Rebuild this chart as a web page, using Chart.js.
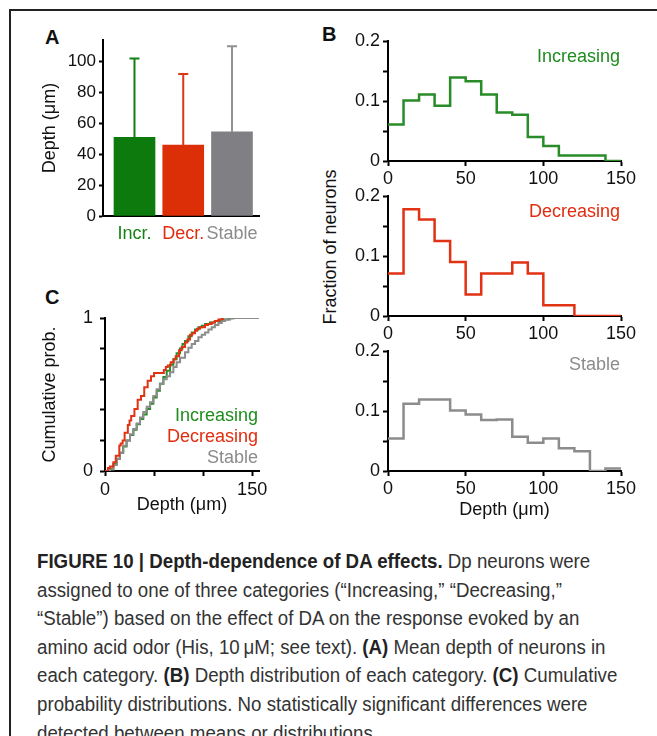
<!DOCTYPE html>
<html lang="en">
<head>
<meta charset="UTF-8">
<title>Depth-dependence of DA effects</title>
<script src="https://cdn.jsdelivr.net/npm/chart.js"></script>
<style>
  body { margin: 0; width: 657px; height: 736px; background: #fff; position: relative; overflow: hidden;
         font-family: "Liberation Sans", Arial, sans-serif; color: #111; }
  #frame { position: absolute; left: 9px; top: 9px; right: -5px; bottom: -5px;
           border-top: 2px solid #222; border-left: 2px solid #222; }
  .box { position: absolute; }
  .letter { position: absolute; font-weight: bold; font-size: 20px; line-height: 20px; }
  .tag { position: absolute; font-size: 18px; line-height: 22px; text-align: right; white-space: nowrap; }
  #ylabB { position: absolute; left: 230px; top: 237px; width: 200px; height: 20px; line-height: 20px;
           text-align: center; font-size: 18px; transform: rotate(-90deg); white-space: nowrap; }
  #caption { position: absolute; left: 37px; top: 547px; font-size: 20px; line-height: 28.6px; color: #333;
             white-space: nowrap; transform: scaleX(0.935); transform-origin: left top; }
  #caption b { color: #222; }
</style>
</head>
<body>
<div id="frame"></div>

<div class="letter" style="left:45px; top:27px;">A</div>
<div class="letter" style="left:322px; top:24px;">B</div>
<div class="letter" style="left:45px; top:287px;">C</div>

<div class="box" style="left:20px; top:20px; width:250px; height:240px;"><canvas id="barChart"></canvas></div>
<div class="box" style="left:340px; top:25px; width:305px; height:170px;"><canvas id="histInc"></canvas></div>
<div class="box" style="left:340px; top:180px; width:305px; height:170px;"><canvas id="histDec"></canvas></div>
<div class="box" style="left:340px; top:335px; width:305px; height:195px;"><canvas id="histSta"></canvas></div>
<div class="box" style="left:20px; top:300px; width:255px; height:230px;"><canvas id="cumChart"></canvas></div>

<div id="ylabB">Fraction of neurons</div>

<div class="tag" style="right:37px; top:45px; color:rgb(30,140,30);">Increasing</div>
<div class="tag" style="right:37px; top:200px; color:rgb(225,45,15);">Decreasing</div>
<div class="tag" style="right:37px; top:353px; color:rgb(140,140,140);">Stable</div>

<div class="tag" style="left:150px; width:108px; top:404px; color:rgb(30,140,30);">Increasing</div>
<div class="tag" style="left:150px; width:108px; top:425px; color:rgb(225,45,15);">Decreasing</div>
<div class="tag" style="left:150px; width:108px; top:446px; color:rgb(140,140,140);">Stable</div>

<div id="caption">
<b>FIGURE 10 | Depth-dependence of DA effects.</b> Dp neurons were<br>
assigned to one of three categories (“Increasing,” “Decreasing,”<br>
“Stable”) based on the effect of DA on the response evoked by an<br>
amino acid odor (His, 10&thinsp;μM; see text). <b>(A)</b> Mean depth of neurons in<br>
each category. <b>(B)</b> Depth distribution of each category. <b>(C)</b> Cumulative<br>
probability distributions. No statistically significant differences were<br>
detected between means or distributions.
</div>

<script>
// panel A: mean depth +/- SD
const barLabels = ['Incr.', 'Decr.', 'Stable'];
const meanDepth = [51, 46, 54.5];
const sdDepth = [51, 46, 55.5];

// panel B: histogram, 10 um bins
const binEdges = [0, 10, 20, 30, 40, 50, 60, 70, 80, 90, 100, 110, 120, 130, 140, 150];
const fracIncreasing = [0.061, 0.101, 0.111, 0.092, 0.139, 0.133, 0.111, 0.081, 0.077, 0.040, 0.025, 0.009, 0.009, 0.009, 0];
const fracDecreasing = [0.071, 0.178, 0.161, 0.125, 0.090, 0.036, 0.071, 0.071, 0.089, 0.071, 0.018, 0.018, 0, 0, 0];
const fracStable = [0.054, 0.112, 0.119, 0.119, 0.101, 0.094, 0.085, 0.086, 0.057, 0.047, 0.054, 0.038, 0.033, 0, 0.004];

// panel C: cumulative probability
const cumDecDepth = [0, 3, 5, 8.5, 11, 14.6, 16, 18, 20, 23.3, 25, 26.7, 30, 33.3, 36.7, 40, 43.5, 46.9, 50, 58.5, 60, 62, 64, 67, 70, 72, 75.5, 78.2, 81.6, 84, 86.7, 89, 91.8, 94, 96.9, 102, 105, 108.8, 112, 115.6, 119, 120];
const cumDecProb = [0, 0.02, 0.03, 0.057, 0.1, 0.166, 0.18, 0.2, 0.25, 0.3, 0.33, 0.36, 0.405, 0.466, 0.49, 0.547, 0.59, 0.62, 0.64, 0.64, 0.66, 0.68, 0.69, 0.71, 0.73, 0.75, 0.79, 0.81, 0.84, 0.86, 0.89, 0.9, 0.917, 0.93, 0.94, 0.954, 0.96, 0.97, 0.98, 0.99, 0.993, 1];
const cumIncDepth = [0, 3, 5, 8.5, 12, 15.3, 18.5, 22, 25.5, 28.9, 32.3, 35.7, 39, 42.5, 46, 49.3, 52.7, 56, 59.5, 62.9, 66.3, 69.7, 73, 76.5, 79, 81.6, 85, 88.4, 91.8, 95.2, 98.6, 102, 107, 112, 119, 125.9, 131];
const cumIncProb = [0, 0.005, 0.015, 0.046, 0.08, 0.12, 0.16, 0.2, 0.235, 0.27, 0.305, 0.34, 0.37, 0.405, 0.44, 0.48, 0.525, 0.57, 0.615, 0.655, 0.695, 0.73, 0.77, 0.8, 0.83, 0.85, 0.88, 0.905, 0.925, 0.94, 0.95, 0.96, 0.97, 0.98, 0.99, 0.998, 1];
const cumStaDepth = [0, 2, 5, 8.5, 11.9, 15.3, 18.7, 22, 25.5, 28.9, 32.3, 35.7, 39, 42.5, 45.9, 49.3, 52.7, 56, 59.5, 62.9, 66.3, 69.7, 73, 76.5, 81.6, 85, 88.4, 91.8, 95.2, 98.6, 102, 105.4, 108.8, 112, 115.6, 119, 122.4, 127.6, 131, 157];
const cumStaProb = [0, 0, 0.01, 0.04, 0.08, 0.12, 0.165, 0.2, 0.24, 0.275, 0.31, 0.35, 0.385, 0.42, 0.45, 0.49, 0.535, 0.57, 0.6, 0.62, 0.645, 0.68, 0.71, 0.74, 0.776, 0.805, 0.83, 0.85, 0.874, 0.89, 0.906, 0.925, 0.94, 0.955, 0.967, 0.98, 0.99, 0.998, 1, 1];

const GREEN = 'rgb(40,140,40)', RED = 'rgb(225,50,20)', GREY = 'rgb(140,140,140)';
const barColors = ['rgb(12,122,12)', 'rgb(220,47,8)', 'rgb(128,128,132)'];
const errColors = ['rgb(20,128,20)', 'rgb(222,55,20)', 'rgb(145,145,148)'];
const labelColors = ['rgb(20,130,20)', 'rgb(225,45,15)', 'rgb(140,140,140)'];

Chart.defaults.font.family = '"Liberation Sans", Arial, sans-serif';
Chart.defaults.color = '#111';
Chart.defaults.animation = false;
Chart.defaults.plugins.legend.display = false;
Chart.defaults.plugins.tooltip.enabled = false;

const errorBars = {
  id: 'errorBars',
  afterDatasetsDraw(chart) {
    const {ctx, scales: {x, y}} = chart;
    ctx.save();
    ctx.lineWidth = 2;
    meanDepth.forEach((m, i) => {
      const px = x.getPixelForValue(i);
      const y0 = y.getPixelForValue(m);
      const y1 = y.getPixelForValue(m + sdDepth[i]);
      ctx.strokeStyle = errColors[i];
      ctx.beginPath();
      ctx.moveTo(px, y0); ctx.lineTo(px, y1);
      ctx.moveTo(px - 5, y1); ctx.lineTo(px + 5, y1);
      ctx.stroke();
    });
    ctx.restore();
  }
};

new Chart(document.getElementById('barChart'), {
  type: 'bar',
  data: {
    datasets: [{
      data: meanDepth.map((v, i) => ({x: i, y: v})),
      backgroundColor: barColors,
      barThickness: 41
    }]
  },
  options: {
    responsive: true, maintainAspectRatio: false,
    layout: {padding: {top: 20, right: 11, left: 0, bottom: 0}},
    scales: {
      x: {
        type: 'linear', min: -0.646, max: 2.554, offset: false,
        afterBuildTicks: s => { s.ticks = barLabels.map((_, i) => ({value: i})); },
        afterFit: s => { s.height = 44; },
        ticks: {
          callback: v => barLabels[v], padding: 7,
          font: {size: 18}, color: ctx => labelColors[ctx.index]
        },
        grid: {display: true, drawOnChartArea: false, drawTicks: false, offset: false},
        border: {color: '#000', width: 2}
      },
      y: {
        min: 0, max: 114,
        afterBuildTicks: s => { s.ticks = s.ticks.filter(t => t.value % 20 === 0); },
        afterFit: s => { s.width = 83; },
        ticks: {stepSize: 20, padding: 3, font: {size: 17}},
        grid: {drawOnChartArea: false, tickLength: 4, color: '#000', tickWidth: 2},
        border: {color: '#000', width: 2},
        title: {display: true, text: 'Depth (μm)', font: {size: 18}, padding: {top: 19, bottom: 0}}
      }
    }
  },
  plugins: [errorBars]
});

function makeHist(id, frac, color, xHeight, withTitle) {
  new Chart(document.getElementById(id), {
    type: 'line',
    data: {
      datasets: [{
        data: binEdges.map((e, i) => ({x: e, y: frac[Math.min(i, frac.length - 1)]})),
        borderColor: color, borderWidth: 2.5, pointRadius: 0, stepped: 'before', fill: false
      }]
    },
    options: {
      responsive: true, maintainAspectRatio: false,
      layout: {padding: {top: 16, right: 24, left: 0, bottom: 0}},
      scales: {
        x: {
          type: 'linear', min: 0, max: 150,
          afterFit: s => { s.height = xHeight; },
          ticks: {stepSize: 50, padding: 2, font: {size: 18}},
          grid: {drawOnChartArea: false, tickLength: 5, color: '#000', tickWidth: 2},
          border: {color: '#000', width: 2},
          title: {display: withTitle, text: 'Depth (μm)', font: {size: 18}, padding: {top: 0, bottom: 9}}
        },
        y: {
          min: 0, max: 0.2,
          afterFit: s => { s.width = 48; },
          ticks: {
            stepSize: 0.05, padding: 3, font: {size: 18},
            callback: v => {
              const r = Math.round(v * 100);
              return r % 10 === 0 ? (r === 0 ? '0' : String(r / 100)) : '';
            }
          },
          grid: {drawOnChartArea: false, tickLength: 5, color: '#000', tickWidth: 2},
          border: {color: '#000', width: 2}
        }
      }
    }
  });
}

makeHist('histInc', fracIncreasing, GREEN, 34, false);
makeHist('histDec', fracDecreasing, RED, 34, false);
makeHist('histSta', fracStable, GREY, 59, true);

const pts = (xs, ys) => xs.map((x, i) => ({x: x, y: ys[i]}));

new Chart(document.getElementById('cumChart'), {
  type: 'line',
  data: {
    datasets: [
      {data: pts(cumDecDepth, cumDecProb), borderColor: RED},
      {data: pts(cumStaDepth, cumStaProb), borderColor: GREY},
      {data: pts(cumIncDepth, cumIncProb), borderColor: GREEN}
    ].map(d => Object.assign(d, {borderWidth: 2, pointRadius: 0, stepped: 'before', fill: false}))
  },
  options: {
    responsive: true, maintainAspectRatio: false,
    layout: {padding: {top: 18, right: 16, left: 0, bottom: 0}},
    scales: {
      x: {
        type: 'linear', min: 0, max: 157,
        afterFit: s => { s.height = 59; },
        ticks: {
          stepSize: 50, includeBounds: false, padding: 3, font: {size: 18},
          callback: v => (v === 0 || v === 150) ? String(v) : ''
        },
        grid: {drawOnChartArea: false, tickLength: 5, color: '#000', tickWidth: 2},
        border: {color: '#000', width: 2},
        title: {display: true, text: 'Depth (μm)', font: {size: 18}, padding: {top: 0, bottom: 14}}
      },
      y: {
        min: 0, max: 1,
        afterFit: s => { s.width = 85; },
        ticks: {
          stepSize: 0.2, padding: 7, font: {size: 18},
          callback: v => (Math.abs(v) < 1e-6 || Math.abs(v - 1) < 1e-6) ? String(Math.round(v)) : ''
        },
        grid: {drawOnChartArea: false, tickLength: 5, color: '#000', tickWidth: 2},
        border: {color: '#000', width: 2},
        title: {display: true, text: 'Cumulative prob.', font: {size: 18}, padding: {top: 19, bottom: 0}}
      }
    }
  }
});
</script>
</body>
</html>
